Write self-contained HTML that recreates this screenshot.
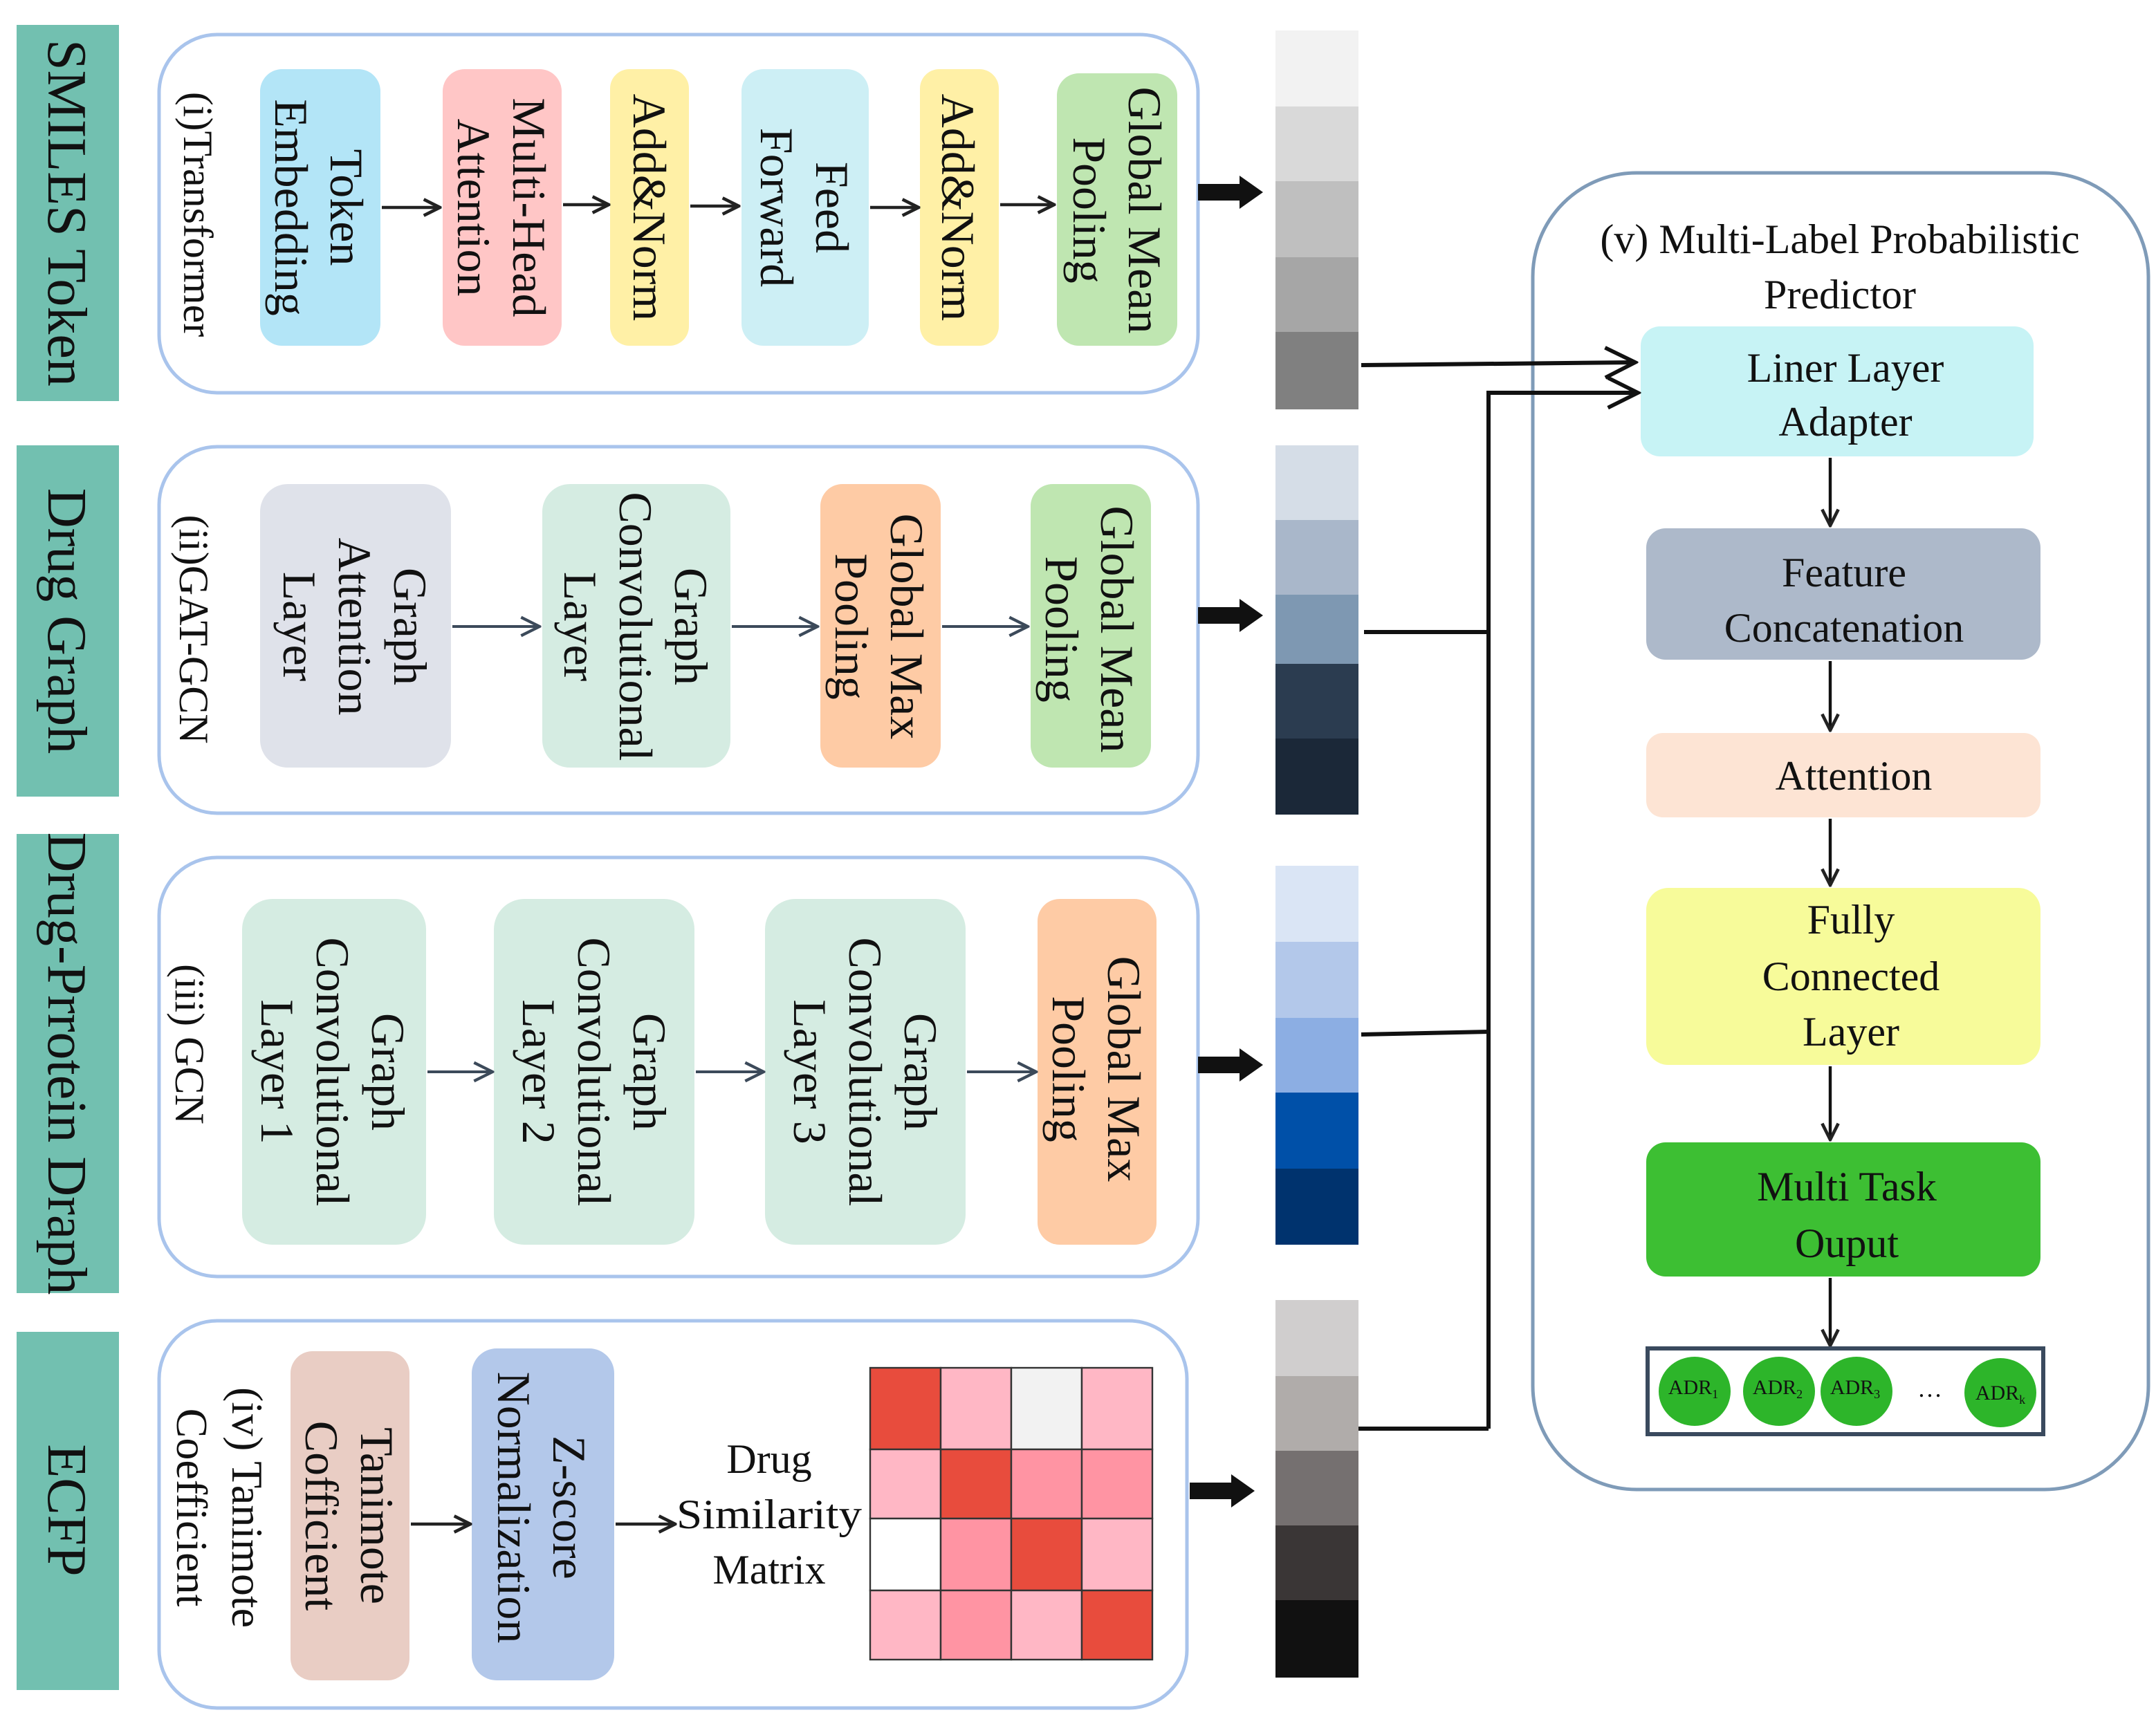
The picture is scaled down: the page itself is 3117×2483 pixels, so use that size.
<!DOCTYPE html>
<html><head><meta charset="utf-8"><style>html,body{margin:0;padding:0;background:#fff}svg{display:block}svg text{font-family:"Liberation Serif","Times New Roman",serif}</style></head>
<body>
<svg xmlns="http://www.w3.org/2000/svg" width="3117" height="2483" viewBox="0 0 1558.5 1241.5" style="font-family:'Liberation Serif',serif">
<defs>
<marker id="a" viewBox="0 0 12 12" refX="11" refY="6" markerWidth="14" markerHeight="14" markerUnits="userSpaceOnUse" orient="auto"><path d="M1,1 L11,6 L1,11" fill="none" stroke="#222" stroke-width="2"/></marker>
<marker id="b" viewBox="0 0 12 12" refX="11" refY="6" markerWidth="16" markerHeight="16" markerUnits="userSpaceOnUse" orient="auto"><path d="M1,1 L11,6 L1,11" fill="none" stroke="#3c4a5a" stroke-width="1.6"/></marker>
<marker id="c" viewBox="0 0 12 12" refX="11" refY="6" markerWidth="26" markerHeight="26" markerUnits="userSpaceOnUse" orient="auto"><path d="M1,1 L11,6 L1,11" fill="none" stroke="#111" stroke-width="1.3"/></marker>
</defs>
<rect width="1558.5" height="1241.5" fill="#fff"/>

<g fill="#72c0b0">
<rect x="12" y="18" width="74" height="272"/>
<rect x="12" y="322" width="74" height="254"/>
<rect x="12" y="603" width="74" height="332"/>
<rect x="12" y="963" width="74" height="259"/>
</g>
<g font-size="40" fill="#111" text-anchor="middle">
<text transform="translate(49 154) rotate(90)" y="14">SMILES Token</text>
<text transform="translate(49 449) rotate(90)" y="14">Drug Graph</text>
<text transform="translate(49 769) rotate(90)" y="14">Drug-Prrotein Draph</text>
<text transform="translate(49 1092) rotate(90)" y="14">ECFP</text>
</g>

<g fill="#fff" stroke="#a9c4ec" stroke-width="2.5">
<rect x="115" y="25" width="751" height="259" rx="42"/>
<rect x="115" y="323" width="751" height="265" rx="42"/>
<rect x="115" y="620" width="751" height="303" rx="42"/>
<rect x="115" y="955" width="743" height="280" rx="42"/>
</g>

<rect x="188" y="50" width="87" height="200" rx="16" fill="#b3e5f7"/>
<rect x="320" y="50" width="86" height="200" rx="16" fill="#ffc6c6"/>
<rect x="441" y="50" width="57" height="200" rx="14" fill="#fff0a6"/>
<rect x="536" y="50" width="92" height="200" rx="16" fill="#cdeff5"/>
<rect x="665" y="50" width="57" height="200" rx="14" fill="#fff0a6"/>
<rect x="764" y="53" width="87" height="197" rx="16" fill="#bfe6b1"/>
<g stroke="#222" stroke-width="2.2" marker-end="url(#a)">
<line x1="276" y1="150" x2="318" y2="150"/>
<line x1="407" y1="148" x2="440" y2="148"/>
<line x1="499" y1="149" x2="534" y2="149"/>
<line x1="629" y1="150" x2="664" y2="150"/>
<line x1="723" y1="148" x2="762" y2="148"/>
</g>
<g font-size="34" fill="#111" text-anchor="middle">
<text transform="translate(143 155) rotate(90)" font-size="30" y="10">(i)Transformer</text>
<text transform="translate(231 150) rotate(90)"><tspan x="0" y="-8">Token</tspan><tspan x="0" y="32">Embedding</tspan></text>
<text transform="translate(363 150) rotate(90)"><tspan x="0" y="-8">Multi-Head</tspan><tspan x="0" y="32">Attention</tspan></text>
<text transform="translate(470 150) rotate(90)" y="12">Add&amp;Norm</text>
<text transform="translate(582 150) rotate(90)"><tspan x="0" y="-8">Feed</tspan><tspan x="0" y="32">Forward</tspan></text>
<text transform="translate(693 150) rotate(90)" y="12">Add&amp;Norm</text>
<text transform="translate(808 152) rotate(90)"><tspan x="0" y="-8">Global Mean</tspan><tspan x="0" y="32">Pooling</tspan></text>
</g>

<rect x="188" y="350" width="138" height="205" rx="20" fill="#dfe2ea"/>
<rect x="392" y="350" width="136" height="205" rx="20" fill="#d5ece2"/>
<rect x="593" y="350" width="87" height="205" rx="16" fill="#fecba5"/>
<rect x="745" y="350" width="87" height="205" rx="16" fill="#bfe6b1"/>
<g stroke="#3c4a5a" stroke-width="2" marker-end="url(#b)">
<line x1="327" y1="453" x2="390" y2="453"/>
<line x1="529" y1="453" x2="591" y2="453"/>
<line x1="681" y1="453" x2="743" y2="453"/>
</g>
<g font-size="34" fill="#111" text-anchor="middle">
<text transform="translate(140 455) rotate(90)" font-size="30" y="10">(ii)GAT-GCN</text>
<text transform="translate(257 453) rotate(90)"><tspan x="0" y="-28">Graph</tspan><tspan x="0" y="12">Attention</tspan><tspan x="0" y="52">Layer</tspan></text>
<text transform="translate(460 453) rotate(90)"><tspan x="0" y="-28">Graph</tspan><tspan x="0" y="12">Convolutional</tspan><tspan x="0" y="52">Layer</tspan></text>
<text transform="translate(636 453) rotate(90)"><tspan x="0" y="-8">Global Max</tspan><tspan x="0" y="32">Pooling</tspan></text>
<text transform="translate(788 455) rotate(90)"><tspan x="0" y="-8">Global Mean</tspan><tspan x="0" y="32">Pooling</tspan></text>
</g>

<rect x="175" y="650" width="133" height="250" rx="22" fill="#d5ece2"/>
<rect x="357" y="650" width="145" height="250" rx="22" fill="#d5ece2"/>
<rect x="553" y="650" width="145" height="250" rx="22" fill="#d5ece2"/>
<rect x="750" y="650" width="86" height="250" rx="16" fill="#fecba5"/>
<g stroke="#3c4a5a" stroke-width="2" marker-end="url(#b)">
<line x1="309" y1="775" x2="356" y2="775"/>
<line x1="503" y1="775" x2="552" y2="775"/>
<line x1="699" y1="775" x2="749" y2="775"/>
</g>
<g font-size="34" fill="#111" text-anchor="middle">
<text transform="translate(137 755) rotate(90)" font-size="30" y="10">(iii) GCN</text>
<text transform="translate(241 775) rotate(90)"><tspan x="0" y="-28">Graph</tspan><tspan x="0" y="12">Convolutional</tspan><tspan x="0" y="52">Layer 1</tspan></text>
<text transform="translate(430 775) rotate(90)"><tspan x="0" y="-28">Graph</tspan><tspan x="0" y="12">Convolutional</tspan><tspan x="0" y="52">Layer 2</tspan></text>
<text transform="translate(626 775) rotate(90)"><tspan x="0" y="-28">Graph</tspan><tspan x="0" y="12">Convolutional</tspan><tspan x="0" y="52">Layer 3</tspan></text>
<text transform="translate(793 773) rotate(90)"><tspan x="0" y="-8">Global Max</tspan><tspan x="0" y="32">Pooling</tspan></text>
</g>

<rect x="210" y="977" width="86" height="238" rx="16" fill="#e9cdc4"/>
<rect x="341" y="975" width="103" height="240" rx="18" fill="#b3c8ea"/>
<g stroke="#222" stroke-width="2.2" marker-end="url(#a)">
<line x1="297" y1="1102" x2="340" y2="1102"/>
<line x1="445" y1="1102" x2="488" y2="1102"/>
</g>
<g font-size="34" fill="#111" text-anchor="middle">
<text transform="translate(160 1090) rotate(90)" font-size="32"><tspan x="0" y="-8">(iv) Tanimote</tspan><tspan x="0" y="32">Coefficient</tspan></text>
<text transform="translate(253 1096) rotate(90)"><tspan x="0" y="-8">Tanimote</tspan><tspan x="0" y="32">Cofficient</tspan></text>
<text transform="translate(392 1090) rotate(90)"><tspan x="0" y="-8">Z-score</tspan><tspan x="0" y="32">Normalization</tspan></text>
</g>
<g font-size="30" fill="#111" text-anchor="middle">
<text x="556" y="1065">Drug</text>
<text x="556" y="1105" textLength="134" lengthAdjust="spacingAndGlyphs">Similarity</text>
<text x="556" y="1145">Matrix</text>
</g>
<g stroke="#333" stroke-width="1.2">
<rect x="629" y="989" width="51" height="59" fill="#e84c3d"/>
<rect x="680" y="989" width="51" height="59" fill="#ffb7c5"/>
<rect x="731" y="989" width="51" height="59" fill="#f2f2f2"/>
<rect x="782" y="989" width="51" height="59" fill="#ffb7c5"/>
<rect x="629" y="1048" width="51" height="50" fill="#ffb7c5"/>
<rect x="680" y="1048" width="51" height="50" fill="#e84c3d"/>
<rect x="731" y="1048" width="51" height="50" fill="#ff94a3"/>
<rect x="782" y="1048" width="51" height="50" fill="#ff94a3"/>
<rect x="629" y="1098" width="51" height="52" fill="#ffffff"/>
<rect x="680" y="1098" width="51" height="52" fill="#ff94a3"/>
<rect x="731" y="1098" width="51" height="52" fill="#e84c3d"/>
<rect x="782" y="1098" width="51" height="52" fill="#ffb7c5"/>
<rect x="629" y="1150" width="51" height="50" fill="#ffb7c5"/>
<rect x="680" y="1150" width="51" height="50" fill="#ff94a3"/>
<rect x="731" y="1150" width="51" height="50" fill="#ffb7c5"/>
<rect x="782" y="1150" width="51" height="50" fill="#e84c3d"/>
</g>

<g fill="#111">
<polygon points="866,133 896,133 896,127 913,139 896,151 896,145 866,145"/>
<polygon points="866,439 896,439 896,433 913,445 896,457 896,451 866,451"/>
<polygon points="866,764 896,764 896,758 913,770 896,782 896,776 866,776"/>
<polygon points="860,1072 890,1072 890,1066 907,1078 890,1090 890,1084 860,1084"/>
</g>

<rect x="922" y="22" width="60" height="55" fill="#f2f2f2"/>
<rect x="922" y="77" width="60" height="54" fill="#d9d9d9"/>
<rect x="922" y="131" width="60" height="55" fill="#bfbfbf"/>
<rect x="922" y="186" width="60" height="54" fill="#a6a6a6"/>
<rect x="922" y="240" width="60" height="56" fill="#808080"/>

<rect x="922" y="322" width="60" height="54" fill="#d5dde7"/>
<rect x="922" y="376" width="60" height="54" fill="#a9b7ca"/>
<rect x="922" y="430" width="60" height="50" fill="#7e98b2"/>
<rect x="922" y="480" width="60" height="54" fill="#2b3c50"/>
<rect x="922" y="534" width="60" height="55" fill="#1b2838"/>

<rect x="922" y="626" width="60" height="55" fill="#dae5f5"/>
<rect x="922" y="681" width="60" height="55" fill="#b3c8ea"/>
<rect x="922" y="736" width="60" height="54" fill="#8caee3"/>
<rect x="922" y="790" width="60" height="55" fill="#0050a8"/>
<rect x="922" y="845" width="60" height="55" fill="#00336e"/>

<rect x="922" y="940" width="60" height="55" fill="#d0cece"/>
<rect x="922" y="995" width="60" height="54" fill="#b0acaa"/>
<rect x="922" y="1049" width="60" height="54" fill="#757070"/>
<rect x="922" y="1103" width="60" height="54" fill="#3a3636"/>
<rect x="922" y="1157" width="60" height="56" fill="#111111"/>

<rect x="1108" y="125" width="445" height="952" rx="75" fill="#fff" stroke="#7f9bb8" stroke-width="2.5"/>
<g font-size="30" fill="#111" text-anchor="middle">
<text x="1330" y="183">(v) Multi-Label Probabilistic</text>
<text x="1330" y="223">Predictor</text>
</g>
<rect x="1186" y="236" width="284" height="94" rx="14" fill="#c7f3f5"/>
<rect x="1190" y="382" width="285" height="95" rx="14" fill="#adb9ca"/>
<rect x="1190" y="530" width="285" height="61" rx="12" fill="#fde4d4"/>
<rect x="1190" y="642" width="285" height="128" rx="16" fill="#f7fb9a"/>
<rect x="1190" y="826" width="285" height="97" rx="14" fill="#3dbf33"/>
<g font-size="30" fill="#111" text-anchor="middle">
<text x="1334" y="276">Liner Layer</text>
<text x="1334" y="315">Adapter</text>
<text x="1333" y="424">Feature</text>
<text x="1333" y="464">Concatenation</text>
<text x="1340" y="571">Attention</text>
<text x="1338" y="675">Fully</text>
<text x="1338" y="716">Connected</text>
<text x="1338" y="756">Layer</text>
<text x="1335" y="868">Multi Task</text>
<text x="1335" y="909">Ouput</text>
</g>
<g stroke="#111" stroke-width="2.2" marker-end="url(#a)">
<line x1="1323" y1="331" x2="1323" y2="380"/>
<line x1="1323" y1="478" x2="1323" y2="528"/>
<line x1="1323" y1="592" x2="1323" y2="640"/>
<line x1="1323" y1="771" x2="1323" y2="824"/>
<line x1="1323" y1="924" x2="1323" y2="973"/>
</g>
<rect x="1191" y="975" width="286" height="62" fill="#fff" stroke="#3a4a5e" stroke-width="3"/>
<g fill="#2db52a">
<ellipse cx="1225" cy="1006" rx="26" ry="25"/>
<ellipse cx="1286" cy="1006" rx="26" ry="25"/>
<ellipse cx="1342" cy="1006" rx="26" ry="25"/>
<ellipse cx="1446" cy="1007" rx="26" ry="25"/>
</g>
<g font-size="15" fill="#111" text-anchor="middle">
<text x="1224" y="1008">ADR<tspan font-size="9" dy="3">1</tspan></text>
<text x="1285" y="1008">ADR<tspan font-size="9" dy="3">2</tspan></text>
<text x="1341" y="1008">ADR<tspan font-size="9" dy="3">3</tspan></text>
<text x="1446" y="1012">ADR<tspan font-size="9" dy="3">k</tspan></text>
<text x="1395" y="1010" font-size="18">…</text>
</g>

<g fill="none" stroke="#111" stroke-width="3">
<path d="M984,264 L1182,262" marker-end="url(#c)"/>
<path d="M1076,1033 L1076,284 L1184,284" marker-end="url(#c)"/>
<path d="M986,457 L1076,457"/>
<path d="M984,748 L1076,746"/>
<path d="M982,1033 L1076,1033"/>
</g>
</svg>
</body></html>
